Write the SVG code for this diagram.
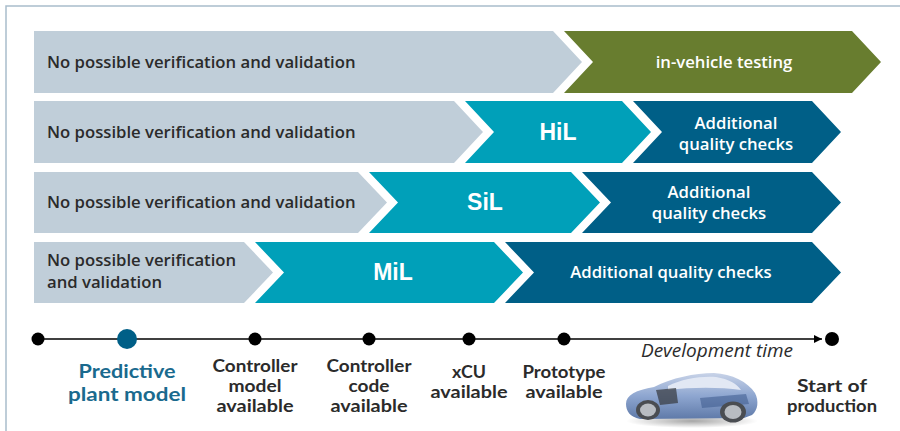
<svg xmlns="http://www.w3.org/2000/svg" width="900" height="431" viewBox="0 0 900 431">
<defs>
<style>
.grey{fill:#c0ced9}
.green{fill:#687d2f}
.teal{fill:#00a0b9}
.dark{fill:#005f87}
.lbl{font-family:"Open Sans","Noto Sans",sans-serif;font-weight:600;font-size:16.7px;fill:#2b2b2b}
.wl{font-family:"Open Sans","Noto Sans",sans-serif;font-weight:600;font-size:16.7px;fill:#ffffff;text-anchor:middle}
.big{font-family:"Liberation Sans",Arial,sans-serif;font-weight:700;font-size:23px;fill:#ffffff;text-anchor:middle}
.tl{font-family:Lato,"Open Sans",sans-serif;font-weight:700;font-size:16.5px;fill:#2b2b2b;text-anchor:middle}
.pp{font-family:Lato,"Open Sans",sans-serif;font-weight:700;font-size:19px;fill:#1a6a8e;text-anchor:middle}
.dot{fill:#000000}
.tyre{fill:#4a4d52}
.rim{fill:#b8bcc2}
</style>
<marker id="arr" viewBox="0 0 10 10" refX="10" refY="5" markerWidth="8" markerHeight="8" markerUnits="userSpaceOnUse" orient="auto">
<path d="M0,0 L10,5 L0,10 Z" fill="#000"/>
</marker>
<linearGradient id="carBody" x1="0" y1="0" x2="0" y2="1">
<stop offset="0" stop-color="#c8d3e8"/>
<stop offset="0.5" stop-color="#8ea6d0"/>
<stop offset="1" stop-color="#5f7aa9"/>
</linearGradient>
<radialGradient id="shadow" cx="0.5" cy="0.5" r="0.5">
<stop offset="0" stop-color="#000" stop-opacity="0.35"/>
<stop offset="1" stop-color="#000" stop-opacity="0"/>
</radialGradient>
</defs>
<rect width="900" height="431" fill="#ffffff"/>
<g id="frame" fill="none" stroke="#a9bdcc" stroke-width="1.5">
<path d="M6,431 L6,6 L900,6"/>
</g>

<g id="row1">
<g id="r1-none"><polygon class="grey" points="34,31 553,31 582,62 553,93 34,93"/>
<text class="lbl" x="47" y="68">No possible verification and validation</text></g>
<g id="r1-vehicle"><polygon class="green" points="564,31 852,31 881,62 852,93 564,93 593,62"/>
<text class="wl" x="724" y="68">in-vehicle testing</text></g>
</g>

<g id="row2">
<g id="r2-none"><polygon class="grey" points="34,101 454,101 483,132 454,163 34,163"/>
<text class="lbl" x="47" y="138">No possible verification and validation</text></g>
<g id="r2-hil"><polygon class="teal" points="465,101 622,101 651,132 622,163 465,163 494,132"/>
<text class="big" x="558" y="140">HiL</text></g>
<g id="r2-qc"><polygon class="dark" points="633,101 812,101 841,132 812,163 633,163 662,132"/>
<text class="wl" x="736" y="129">Additional<tspan x="736" dy="21">quality checks</tspan></text></g>
</g>

<g id="row3">
<g id="r3-none"><polygon class="grey" points="34,172 358,172 387,202.5 358,233 34,233"/>
<text class="lbl" x="47" y="208">No possible verification and validation</text></g>
<g id="r3-sil"><polygon class="teal" points="369,172 571,172 600,202.5 571,233 369,233 398,202.5"/>
<text class="big" x="485" y="210">SiL</text></g>
<g id="r3-qc"><polygon class="dark" points="582,172 812,172 841,202.5 812,233 582,233 611,202.5"/>
<text class="wl" x="709" y="198">Additional<tspan x="709" dy="21">quality checks</tspan></text></g>
</g>

<g id="row4">
<g id="r4-none"><polygon class="grey" points="34,242 244,242 273,272.5 244,303 34,303"/>
<text class="lbl" x="47" y="266">No possible verification<tspan x="47" dy="22">and validation</tspan></text></g>
<g id="r4-mil"><polygon class="teal" points="255,242 494,242 523,272.5 494,303 255,303 284,272.5"/>
<text class="big" x="393" y="280">MiL</text></g>
<g id="r4-qc"><polygon class="dark" points="505,242 812,242 841,272.5 812,303 505,303 534,272.5"/>
<text class="wl" x="671" y="278">Additional quality checks</text></g>
</g>

<g id="connectors">
<path d="M38,339 L822,339" stroke="#000" stroke-width="1.3" fill="none" marker-end="url(#arr)"/>
</g>

<g id="timeline">
<g id="t-start"><circle class="dot" cx="38" cy="339" r="6.5"/></g>
<g id="t-plant"><circle cx="127" cy="339" r="10" fill="#005f87"/>
<text class="pp" x="127" y="378"><tspan textLength="97" lengthAdjust="spacingAndGlyphs">Predictive</tspan><tspan x="127" dy="23" textLength="118" lengthAdjust="spacingAndGlyphs">plant model</tspan></text></g>
<g id="t-ctrl-model"><circle class="dot" cx="255" cy="339" r="6.5"/>
<text class="tl" x="255" y="372"><tspan textLength="85" lengthAdjust="spacingAndGlyphs">Controller</tspan><tspan x="255" dy="20" textLength="53" lengthAdjust="spacingAndGlyphs">model</tspan><tspan x="255" dy="20" textLength="77" lengthAdjust="spacingAndGlyphs">available</tspan></text></g>
<g id="t-ctrl-code"><circle class="dot" cx="369" cy="339" r="6.5"/>
<text class="tl" x="369" y="372"><tspan textLength="85" lengthAdjust="spacingAndGlyphs">Controller</tspan><tspan x="369" dy="20" textLength="41" lengthAdjust="spacingAndGlyphs">code</tspan><tspan x="369" dy="20" textLength="77" lengthAdjust="spacingAndGlyphs">available</tspan></text></g>
<g id="t-xcu"><circle class="dot" cx="469" cy="339" r="6.5"/>
<text class="tl" x="469" y="378"><tspan textLength="34" lengthAdjust="spacingAndGlyphs">xCU</tspan><tspan x="469" dy="20" textLength="77" lengthAdjust="spacingAndGlyphs">available</tspan></text></g>
<g id="t-proto"><circle class="dot" cx="564" cy="339" r="6.5"/>
<text class="tl" x="564" y="378"><tspan textLength="83" lengthAdjust="spacingAndGlyphs">Prototype</tspan><tspan x="564" dy="20" textLength="77" lengthAdjust="spacingAndGlyphs">available</tspan></text></g>
<g id="t-sop"><circle class="dot" cx="832" cy="339" r="7"/>
<text class="tl" x="832" y="392"><tspan textLength="70" lengthAdjust="spacingAndGlyphs">Start of</tspan><tspan x="832" dy="20" textLength="90" lengthAdjust="spacingAndGlyphs">production</tspan></text></g>
<text x="717" y="357" font-family="'Open Sans','Noto Sans',sans-serif" font-style="italic" font-size="19" fill="#2b2b2b" text-anchor="middle">Development time</text>
</g>

<g id="car">
<ellipse cx="692" cy="421" rx="66" ry="7" fill="url(#shadow)"/>
<path d="M626,404 C626,395 636,390 654,387 C672,378 694,373 714,373 C732,374 748,382 755,393 C759,401 758,410 752,415 L744,418 L640,419 C630,417 626,411 626,404 Z" fill="url(#carBody)"/>
<path d="M668,386 C682,379 700,376 716,377 C729,379 737,384 741,390 C720,387 692,387 668,390 Z" fill="#e2e8f4"/>
<path d="M656,390 L676,388 L678,403 L660,405 Z" fill="#3b3f45" opacity="0.75"/>
<path d="M700,398 L746,394 L749,404 L702,408 Z" fill="#3d5a8c" opacity="0.55"/>
<ellipse class="tyre" cx="648" cy="410" rx="12" ry="10"/>
<ellipse class="rim" cx="648" cy="410" rx="8" ry="6.5"/>
<ellipse class="tyre" cx="733" cy="412" rx="13" ry="10.5"/>
<ellipse class="rim" cx="733" cy="412" rx="8.5" ry="7"/>
</g>
</svg>
